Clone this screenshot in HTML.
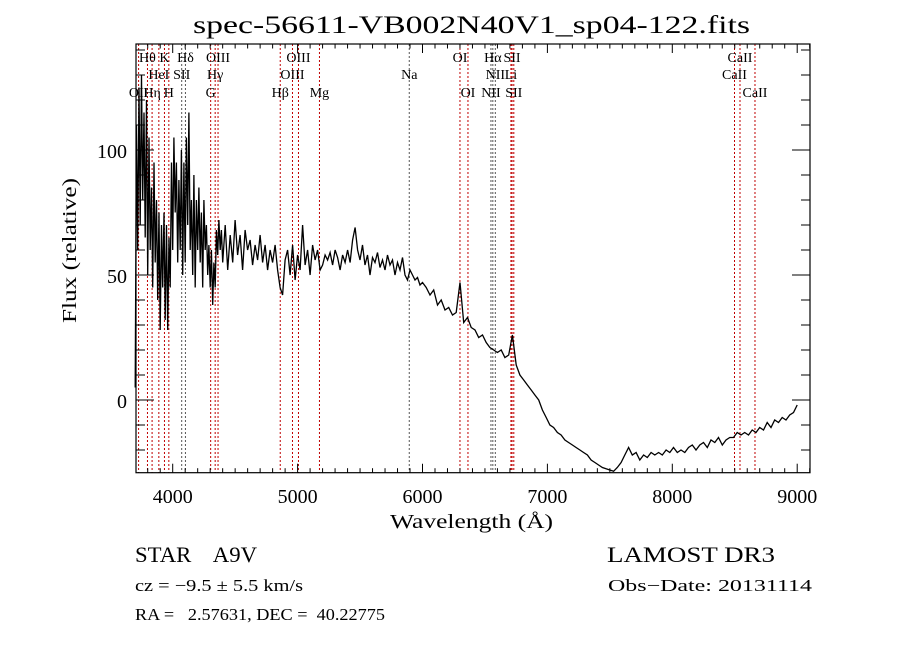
<!DOCTYPE html>
<html><head><meta charset="utf-8"><style>
html,body{margin:0;padding:0;background:#fff;}
svg{display:block;}
text{font-family:"Liberation Serif",serif;fill:#000;}
</style></head><body>
<svg id="chart" width="900" height="649" viewBox="0 0 900 649" xmlns="http://www.w3.org/2000/svg">
<rect width="900" height="649" fill="#fff"/>
<text x="193" y="33" font-size="25" textLength="557" lengthAdjust="spacingAndGlyphs">spec-56611-VB002N40V1_sp04-122.fits</text>
<g id="lines"></g>
<g id="labels"></g>
<path id="spec" fill="none" stroke="#000" stroke-width="1.3" stroke-linejoin="miter"/>
<rect x="136" y="44" width="674" height="428.7" fill="none" stroke="#000" stroke-width="1.2"/>
<g id="ticks"></g>
<text x="390" y="528" font-size="20" textLength="163" lengthAdjust="spacingAndGlyphs">Wavelength (Å)</text>
<text transform="translate(76,323) rotate(-90)" font-size="20" textLength="145" lengthAdjust="spacingAndGlyphs">Flux (relative)</text>
<text x="135" y="562" font-size="22" textLength="122" lengthAdjust="spacingAndGlyphs" xml:space="preserve">STAR    A9V</text>
<text x="607" y="562" font-size="22" textLength="168" lengthAdjust="spacingAndGlyphs">LAMOST DR3</text>
<text x="135" y="591" font-size="17" textLength="168" lengthAdjust="spacingAndGlyphs">cz = −9.5 ± 5.5 km/s</text>
<text x="608" y="591" font-size="17" textLength="204" lengthAdjust="spacingAndGlyphs">Obs−Date: 20131114</text>
<text x="135" y="620" font-size="17" textLength="250" lengthAdjust="spacingAndGlyphs" xml:space="preserve">RA =   2.57631, DEC =  40.22775</text>
</svg>
<script>
// x-grid segments (start, step) for flux arrays
const segStart = [3700, 4420, 6030];
const segStep = [10, 20, 30];
const fluxBlue = [5,110,60,125,70,130,80,115,65,120,50,105,60,85,45,95,55,80,40,75,28,70,45,75,32,70,28,65,45,95,60,105,75,95,55,88,60,100,50,95,55,105,70,115,60,80,50,90,45,80,60,85,55,75,45,80,60,70,50,62,45,60,38,55,45,68,58,72,60,68,55];
const fluxMid = [70,52,66,55,72,58,66,52,68,60,64,54,62,56,66,55,62,52,60,55,62,52,45,42,56,60,50,62,48,58,52,70,54,60,50,62,56,60,52,54,58,56,59,54,60,57,52,58,55,60,55,64,69,60,56,62,54,58,50,57,55,59,53,56,52,58,54,56,50,55,52,57,50,48,52,50,48,49,46,47];
const fluxRed = [45,42,44,38,40,36,37,34,35,47,31,33,29,28,25,26,23,21,20,19,20,17,18,26,14,10,8,6,4,2,0,-4,-7,-10,-11,-13,-14,-16,-17,-18,-19,-20,-21,-22,-24,-25,-26,-27,-27.5,-28,-28.5,-27,-25,-22,-19,-22,-21,-24,-22,-23,-21,-22,-21,-22,-20,-21,-19,-21,-20,-21,-19,-18,-20,-18,-17,-19,-16,-17,-15,-18,-16,-15,-15,-13,-14,-13,-14,-12,-13,-11,-12,-9,-11,-8,-9,-7,-8,-6,-5,-2];
const lineWaves = [3727,3798,3835,3889,3934,3969,4072,4102,4304,4340,4363,4861,4959,5007,5175,5894,6300,6364,6548,6563,6583,6708,6717,6731,8498,8542,8662];
const lineLabels = ["OII","Hθ","Hη","HeI","K","H","SII","Hδ","G","Hγ","OIII","Hβ","OIII","OIII","Mg","Na","OI","OI","NII","Hα","NII","Li","SII","SII","CaII","CaII","CaII"];
const lineRows = [2,0,2,1,0,2,1,0,2,1,0,2,1,0,2,1,0,2,2,0,1,1,0,2,1,0,2];
const lineDark = [0,0,0,0,0,0,1,1,0,0,0,0,0,0,0,1,0,0,1,1,1,0,0,0,0,0,0];
const xTicks = [4000,5000,6000,7000,8000,9000];
const yTicks = [0,50,100];

const X0=172.7, XS=0.1249, Y0=400, YS=2.5;
const xs = w => X0 + (w-4000)*XS;
const ys = f => Y0 - f*YS;
const NS="http://www.w3.org/2000/svg";
function mk(tag, attrs, parent){const e=document.createElementNS(NS,tag);for(const k in attrs)e.setAttribute(k,attrs[k]);parent.appendChild(e);return e;}

let d="";
[fluxBlue,fluxMid,fluxRed].forEach((arr,si)=>{
  arr.forEach((f,i)=>{
    const w=segStart[si]+i*segStep[si];
    d+=(d?"L":"M")+xs(w).toFixed(1)+","+ys(f).toFixed(1);
  });
});
document.getElementById('spec').setAttribute('d',d);

const gL=document.getElementById('lines'), gT=document.getElementById('labels');
const rowY=[62,79,97];
lineWaves.forEach((w,i)=>{
  const x=xs(w);
  const ln=mk('line',{x1:x,x2:x,y1:44,y2:472.7,stroke:lineDark[i]?'#555':'#c00000','stroke-width':1,'stroke-dasharray':'2,2'},gL);
  
  
  const t=mk('text',{x:x,y:rowY[lineRows[i]],'font-size':14,'text-anchor':'middle'},gT);
  t.textContent=lineLabels[i];
  
  
});

const gK=document.getElementById('ticks');
for(let w=3800; w<=9100; w+=100){
  const x=xs(w), major=(w%1000===0), L=major?9:4.5;
  mk('line',{x1:x,x2:x,y1:472.7,y2:472.7-L,stroke:'#000','stroke-width':1},gK);
  mk('line',{x1:x,x2:x,y1:44,y2:44+L,stroke:'#000','stroke-width':1},gK);
}
xTicks.forEach(v=>{
  const t=mk('text',{x:xs(v),y:503,'font-size':20,'text-anchor':'middle'},gK);
  t.textContent=v;
  
  
});
for(let f=-20; f<=140; f+=10){
  const y=ys(f), major=(f%50===0), L=major?18:9;
  mk('line',{x1:136,x2:136+L,y1:y,y2:y,stroke:'#000','stroke-width':1},gK);
  mk('line',{x1:810,x2:810-L,y1:y,y2:y,stroke:'#000','stroke-width':1},gK);
}
yTicks.forEach(v=>{
  const t=mk('text',{x:127,y:ys(v)+8,'font-size':20,'text-anchor':'end'},gK);
  t.textContent=v;
  
  
});
</script>
</body></html>
